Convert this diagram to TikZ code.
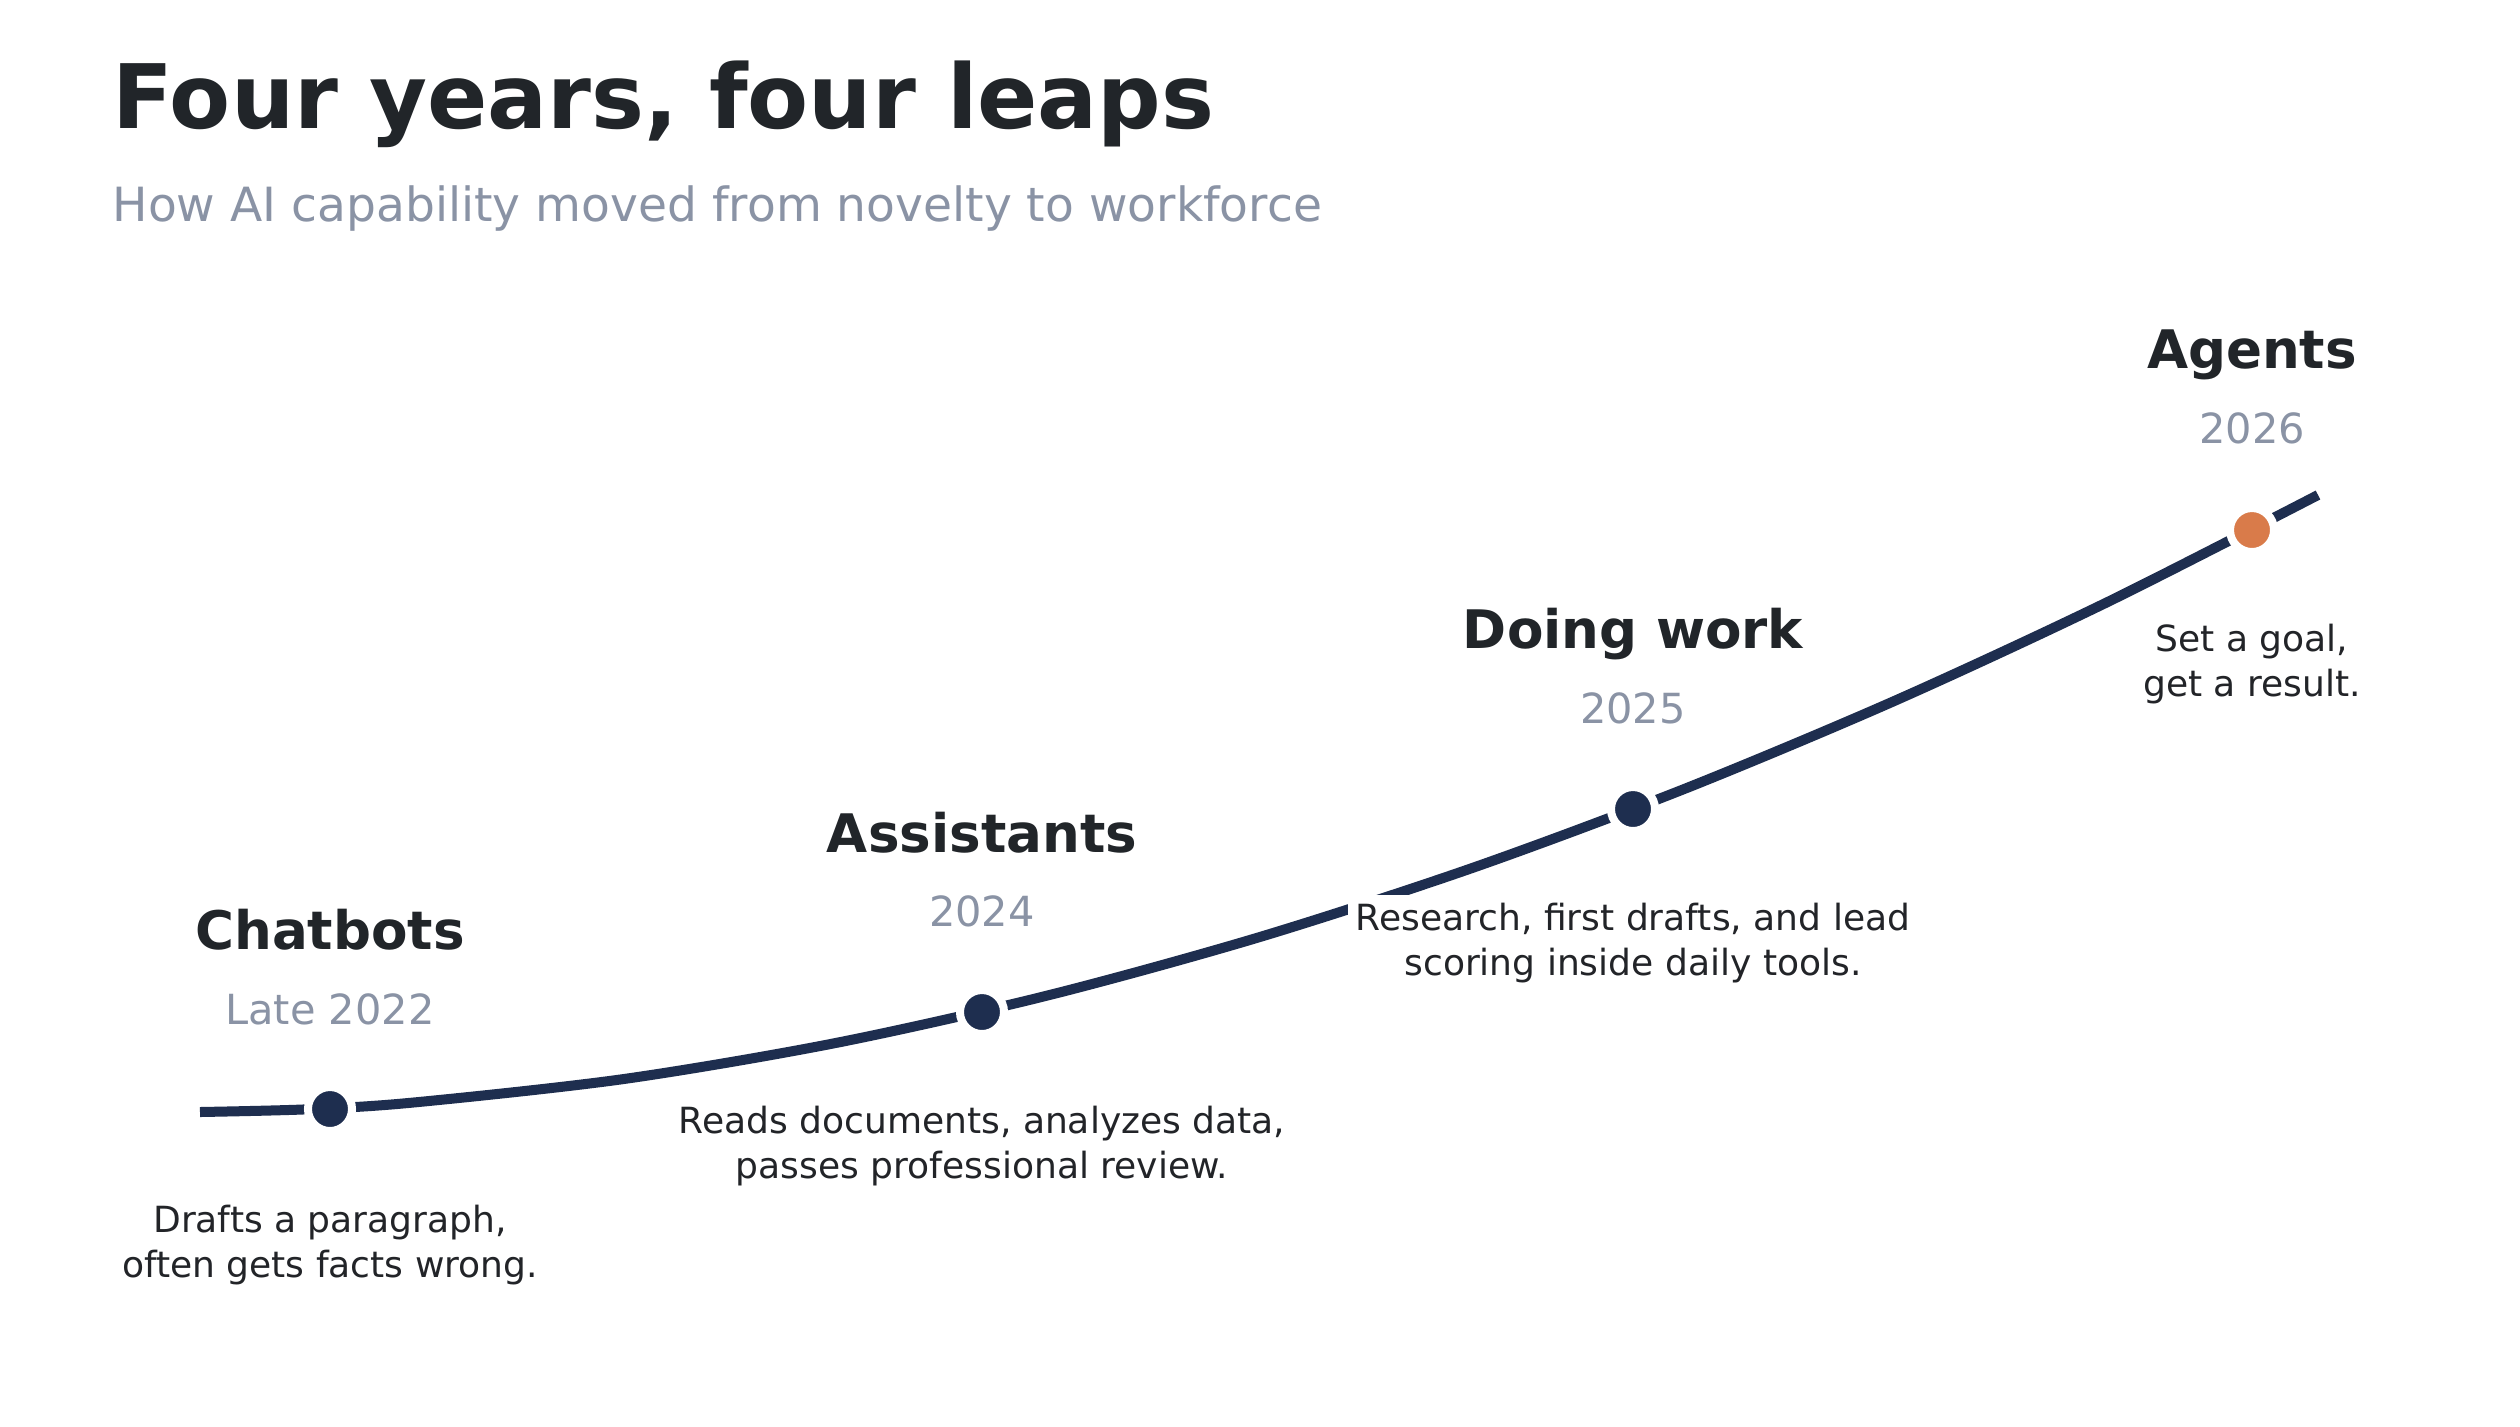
\documentclass[tikz,border=0pt]{standalone}
\usepackage{fontspec}
\setmainfont{DejaVu Sans}
\definecolor{navy}{HTML}{1E2E4F}
\definecolor{ink}{HTML}{212529}
\definecolor{muted}{HTML}{8A93A5}
\definecolor{accent}{HTML}{D97B4A}
\definecolor{desc}{HTML}{222428}
\tikzset{
  headline/.style={anchor=base west, inner sep=0pt, text=ink, font=\bfseries\fontsize{25.3}{30}\selectfont},
  subline/.style={anchor=base west, inner sep=0pt, text=muted, font=\fontsize{13.4}{16}\selectfont},
  stage/.style={anchor=base, inner sep=0pt, text=ink, font=\bfseries\fontsize{15.1}{18}\selectfont},
  yearlbl/.style={anchor=base, inner sep=0pt, text=muted, font=\fontsize{11.8}{14.5}\selectfont},
  desclbl/.style={anchor=base, inner sep=0.08cm, fill=white, text=desc, align=center, font=\fontsize{10.25}{12.8}\selectfont},
  dot/.style={circle, minimum size=0.44cm, inner sep=0pt, fill=navy, draw=white, line width=0.08cm},
  curve/.style={draw=navy, line width=0.1cm, line cap=butt, line join=round},
}
\begin{document}
\begin{tikzpicture}[x=0.01cm, y=-0.01cm]
\useasboundingbox[fill=white] (0,0) rectangle (2520,1426);
\node[headline] (title) at (112,128) {Four years, four leaps};
\node[subline] (subtitle) at (112,221) {How AI capability moved from novelty to workforce};

\draw[curve] plot[smooth, tension=0.5] coordinates {
  (200,1112) (305.9,1109.36) (411.8,1102.66) (623.6,1079.03) (835.4,1043.04)
  (1047.2,995.58) (1259,937.25) (1470.8,868.49) (1682.6,789.63) (1894.4,700.94)
  (2106.2,602.68) (2318,495)};

\node[dot] (d1) at (330,1109) {};
\node[dot] (d2) at (982,1012) {};
\node[dot] (d3) at (1633,809) {};
\node[dot, fill=accent] (d4) at (2252,530) {};

\node[stage] (s1) at (330,949) {Chatbots};
\node[yearlbl] (y1) at (330,1024) {Late 2022};
\node[desclbl] (t1) at (330,1277) {Drafts a paragraph,\\often gets facts wrong.};

\node[stage] (s2) at (982,852) {Assistants};
\node[yearlbl] (y2) at (982,926) {2024};
\node[desclbl] (t2) at (982,1178) {Reads documents, analyzes data,\\passes professional review.};

\node[stage] (s3) at (1633,648) {Doing work};
\node[yearlbl] (y3) at (1633,723) {2025};
\node[desclbl] (t3) at (1633,975) {Research, first drafts, and lead\\scoring inside daily tools.};

\node[stage] (s4) at (2252,368) {Agents};
\node[yearlbl] (y4) at (2252,443) {2026};
\node[desclbl] (t4) at (2252,696) {Set a goal,\\get a result.};
\end{tikzpicture}
\end{document}
